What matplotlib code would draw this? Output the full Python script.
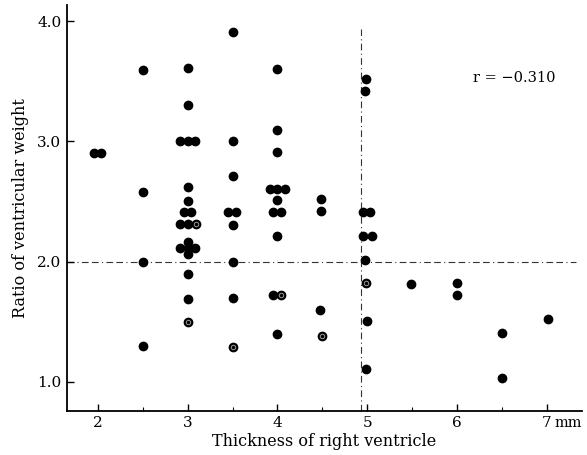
import matplotlib.pyplot as plt
from matplotlib.ticker import MultipleLocator

# Thickness of right ventricle (mm) and ratio of ventricular weight
thickness = [1.96, 2.04,
             2.5, 2.5, 2.5, 2.5,
             3.0, 3.0, 2.92, 3.0, 3.08, 3.0, 3.0, 2.96, 3.04, 2.92, 3.0, 3.09,
             3.0, 2.92, 3.0, 3.08, 3.0, 3.0, 3.0, 3.0,
             3.5, 3.5, 3.5, 3.45, 3.54, 3.5, 3.5, 3.5, 3.5,
             4.0, 4.0, 4.0, 3.92, 4.0, 4.08, 4.0, 3.95, 4.04, 4.0, 3.95, 4.04, 4.0,
             4.48, 4.48, 4.47, 4.5,
             4.99, 4.98, 4.95, 5.03, 4.95, 5.05, 4.98, 4.99, 5.0, 4.99,
             5.49, 6.0, 6.0, 6.5, 6.5, 7.01]
ratio = [2.9, 2.9,
         3.59, 2.58, 2.0, 1.3,
         3.61, 3.3, 3.0, 3.0, 3.0, 2.62, 2.5, 2.41, 2.41, 2.31, 2.31, 2.31,
         2.16, 2.11, 2.11, 2.11, 2.06, 1.9, 1.69, 1.5,
         3.91, 3.0, 2.71, 2.41, 2.41, 2.3, 2.0, 1.7, 1.29,
         3.6, 3.09, 2.91, 2.6, 2.6, 2.6, 2.51, 2.41, 2.41, 2.21, 1.72, 1.72, 1.4,
         2.52, 2.42, 1.6, 1.38,
         3.52, 3.42, 2.41, 2.41, 2.21, 2.21, 2.01, 1.82, 1.51, 1.11,
         1.81, 1.82, 1.72, 1.41, 1.03, 1.52]

# points drawn with a ring inside the dot
ringed_x = [3.0, 3.5, 4.5, 4.99, 4.04, 3.09]
ringed_y = [1.5, 1.29, 1.38, 1.82, 1.72, 2.31]

x_ticks = [2, 3, 4, 5, 6, 7]
x_labels = ["2", "3", "4", "5", "6", "7"]
y_ticks = [1.0, 2.0, 3.0, 4.0]
y_labels = ["1.0", "2.0", "3.0", "4.0"]

r_text = "r = \u22120.310"
cut_x = 4.93
cut_y = 2.0

fig = plt.figure(figsize=(5.87, 4.55), dpi=100)
ax = fig.add_axes([0.114, 0.097, 0.877, 0.892])

ax.plot(thickness, ratio, "o", color="black", markersize=6, zorder=3)
ax.plot(ringed_x, ringed_y, "o", markerfacecolor="none", markeredgecolor="#999999",
        markeredgewidth=0.7, markersize=3.2, zorder=4)

# dividing lines
ax.plot([1.655, 7.33], [cut_y, cut_y], color="#333333", lw=0.8,
        linestyle=(0, (6, 3, 1, 3, 6, 3)), zorder=1)
ax.plot([cut_x, cut_x], [0.759, 3.93], color="#333333", lw=0.8,
        linestyle=(0, (6, 3, 1, 3)), zorder=1)

ax.set_xlim(1.655, 7.39)
ax.set_ylim(0.759, 4.133)

ax.spines["top"].set_visible(False)
ax.spines["right"].set_visible(False)
ax.spines["left"].set_linewidth(1.3)
ax.spines["bottom"].set_linewidth(1.3)

ax.set_xticks(x_ticks)
ax.set_xticklabels(x_labels)
ax.xaxis.set_minor_locator(MultipleLocator(0.5))
ax.set_yticks(y_ticks)
ax.set_yticklabels(y_labels)
ax.tick_params(direction="in", length=5, width=1.0, labelsize=11, pad=4)
ax.tick_params(axis="x", which="minor", direction="in", length=3, width=0.8)
for lab in ax.get_xticklabels() + ax.get_yticklabels():
    lab.set_family("DejaVu Serif")

ax.text(7.09, -0.0138, "mm", transform=ax.get_xaxis_transform(), ha="left", va="top",
        fontsize=10.5, family="DejaVu Serif")
ax.text(6.18, 3.53, r_text, fontsize=10.5, family="DejaVu Serif", ha="left", va="center")

ax.set_xlabel("Thickness of right ventricle", fontsize=11.5, family="DejaVu Serif", labelpad=2)
ax.set_ylabel("Ratio of ventricular weight", fontsize=11.5, family="DejaVu Serif", labelpad=6)

fig.savefig("out.png", dpi=100)
